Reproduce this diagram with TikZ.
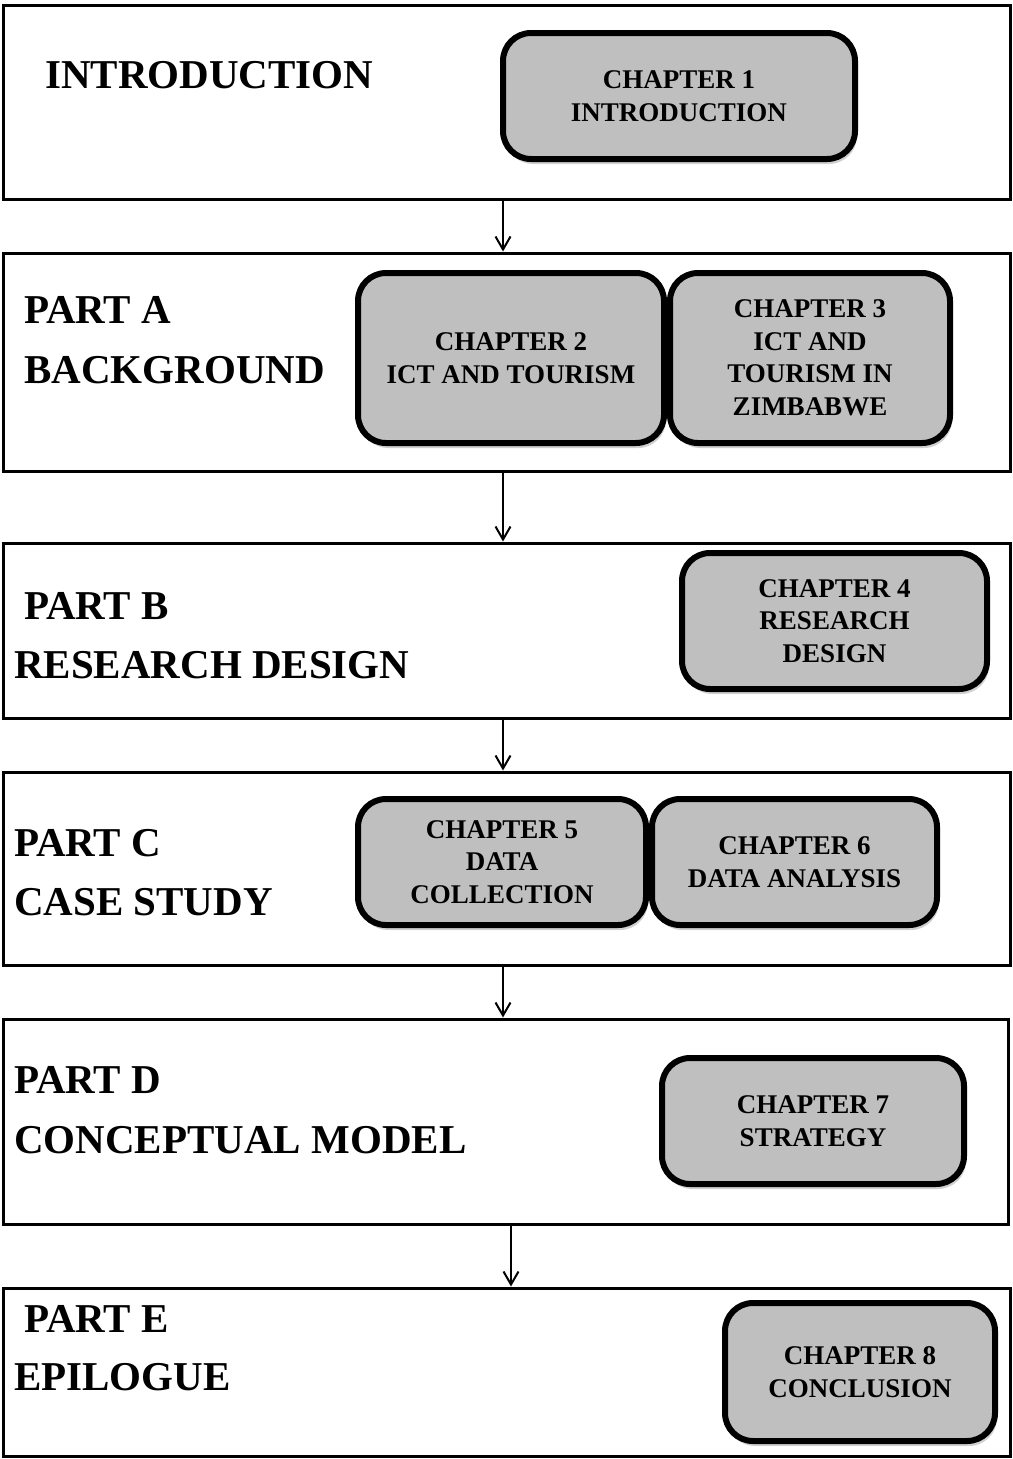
\documentclass[tikz,border=0pt]{standalone}
\usepackage{fontspec}
\setmainfont{Liberation Serif}
\usetikzlibrary{arrows.meta,shadows}
\begin{document}
\begin{tikzpicture}[x=1pt,y=-1pt,
  partbox/.style={draw=black, line width=3pt, fill=white, rectangle, inner sep=0pt},
  chapbox/.style={draw=black, line width=6pt, fill=gray!50, rounded corners=28pt,
    align=center, inner sep=0pt, font=\bfseries\fontsize{27}{32.5}\selectfont,
    drop shadow={shadow xshift=2pt, shadow yshift=-5pt, opacity=0.3, fill=black!60}},
  partlabel/.style={anchor=base west, inner sep=0pt, font=\bfseries\fontsize{41}{45}\selectfont},
  arr/.style={-{Straight Barb[length=13pt,width=15pt,line width=2pt]}, line width=2pt}]
\useasboundingbox (0,0) rectangle (1012,1459);

% part frames
\node[partbox, minimum width=1007pt, minimum height=194pt] (p0) at (506.5,102) {};
\node[partbox, minimum width=1007pt, minimum height=218pt] (pA) at (506.5,362) {};
\node[partbox, minimum width=1007pt, minimum height=175pt] (pB) at (506.5,630.5) {};
\node[partbox, minimum width=1007pt, minimum height=193pt] (pC) at (506.5,868.5) {};
\node[partbox, minimum width=1005pt, minimum height=205pt] (pD) at (505.5,1121.5) {};
\node[partbox, minimum width=1007pt, minimum height=168pt] (pE) at (506.5,1372) {};

% part titles
\node[partlabel] (t0) at (45,88) {INTRODUCTION};
\node[partlabel] (tA1) at (24,323) {PART A};
\node[partlabel] (tA2) at (24,383) {BACKGROUND};
\node[partlabel] (tB1) at (24,619) {PART B};
\node[partlabel] (tB2) at (14,678) {RESEARCH DESIGN};
\node[partlabel] (tC1) at (14,856) {PART C};
\node[partlabel] (tC2) at (14,915) {CASE STUDY};
\node[partlabel] (tD1) at (14,1093) {PART D};
\node[partlabel] (tD2) at (14,1153) {CONCEPTUAL MODEL};
\node[partlabel] (tE1) at (24,1332) {PART E};
\node[partlabel] (tE2) at (14,1390) {EPILOGUE};

% chapters
\node[chapbox, minimum width=352pt, minimum height=126pt] (c1) at (679,96) {CHAPTER 1\\INTRODUCTION};
\node[chapbox, minimum width=306pt, minimum height=170pt] (c2) at (511,358) {CHAPTER 2\\ICT AND TOURISM};
\node[chapbox, minimum width=280pt, minimum height=170pt] (c3) at (810,358) {CHAPTER 3\\ICT AND\\TOURISM IN\\ZIMBABWE};
\node[chapbox, minimum width=305pt, minimum height=136pt] (c4) at (834.5,621) {CHAPTER 4\\RESEARCH\\DESIGN};
\node[chapbox, minimum width=288pt, minimum height=126pt] (c5) at (502,862) {CHAPTER 5\\DATA\\COLLECTION};
\node[chapbox, minimum width=285pt, minimum height=126pt] (c6) at (794.5,862) {CHAPTER 6\\DATA ANALYSIS};
\node[chapbox, minimum width=302pt, minimum height=126pt] (c7) at (813,1121) {CHAPTER 7\\STRATEGY};
\node[chapbox, minimum width=270pt, minimum height=138pt] (c8) at (860,1372) {CHAPTER 8\\CONCLUSION};

% flow between parts
\coordinate (ax) at (503,0);
\coordinate (bx) at (511,0);
\draw[arr] (p0.south -| ax) -- (pA.north -| ax);
\draw[arr] (pA.south -| ax) -- (pB.north -| ax);
\draw[arr] (pB.south -| ax) -- (pC.north -| ax);
\draw[arr] (pC.south -| ax) -- (pD.north -| ax);
\draw[arr] (pD.south -| bx) -- (pE.north -| bx);
\end{tikzpicture}
\end{document}
